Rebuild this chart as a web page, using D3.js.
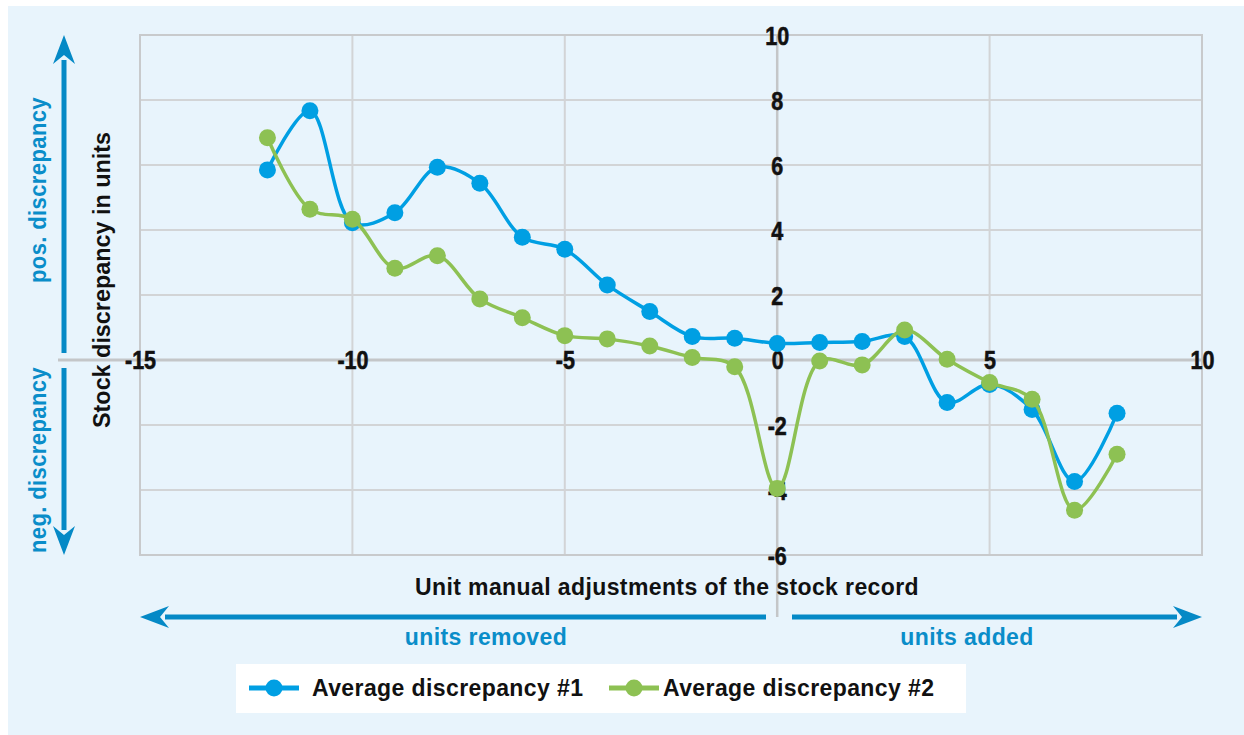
<!DOCTYPE html>
<html>
<head>
<meta charset="utf-8">
<script src="https://cdn.jsdelivr.net/npm/d3@7"></script>
<style>
  body { margin: 0; background: #fff; }
  text { font-family: "Liberation Sans", Arial, sans-serif; font-weight: bold; }
</style>
</head>
<body>
<div id="wrapper"></div>
<script>
// Data
const adjustments = [-12, -11, -10, -9, -8, -7, -6, -5, -4, -3, -2, -1, 0, 1, 2, 3, 4, 5, 6, 7, 8]
const discrepancy1 = [5.85, 7.67, 4.22, 4.53, 5.93, 5.44, 3.78, 3.41, 2.31, 1.49, 0.72, 0.67, 0.51, 0.54, 0.57, 0.72, -1.31, -0.75, -1.52, -3.74, -1.64]
const discrepancy2 = [6.84, 4.64, 4.33, 2.82, 3.21, 1.88, 1.3, 0.75, 0.65, 0.43, 0.08, -0.21, -3.95, -0.03, -0.15, 0.92, 0.02, -0.69, -1.21, -4.62, -2.9]
const seriesNames = ['Average discrepancy #1', 'Average discrepancy #2']
const xTicks = [-15, -10, -5, 0, 5, 10]
const yTicks = [-6, -4, -2, 0, 2, 4, 6, 8, 10]

const colors = ['#009fe3', '#8dc153']
const arrowBlue = '#0589c6'

function drawChart() {
  const dimensions = {
    width: 1244,
    height: 735,
    margin: { top: 35, right: 42, bottom: 180, left: 140 },
  }
  dimensions.boundedWidth = dimensions.width - dimensions.margin.left - dimensions.margin.right
  dimensions.boundedHeight = dimensions.height - dimensions.margin.top - dimensions.margin.bottom

  const svg = d3.select('#wrapper')
    .append('svg')
      .attr('width', dimensions.width)
      .attr('height', dimensions.height)

  // panel background
  svg.append('rect')
    .attr('x', 8).attr('y', 6)
    .attr('width', dimensions.width - 8)
    .attr('height', dimensions.height - 6)
    .attr('fill', '#e8f4fc')

  const xScale = d3.scaleLinear()
    .domain([-15, 10])
    .range([dimensions.margin.left, dimensions.margin.left + dimensions.boundedWidth])
  const yScale = d3.scaleLinear()
    .domain([-6, 10])
    .range([dimensions.margin.top + dimensions.boundedHeight, dimensions.margin.top])

  const x0 = xScale(0), y0 = yScale(0)

  // grid
  svg.append('g').selectAll('line')
    .data(yTicks.filter(d => d !== 0))
    .join('line')
      .attr('x1', xScale(-15)).attr('x2', xScale(10))
      .attr('y1', d => yScale(d)).attr('y2', d => yScale(d))
      .attr('stroke', '#d2d4d6').attr('stroke-width', 2)
  svg.append('g').selectAll('line')
    .data(xTicks.filter(d => d !== 0))
    .join('line')
      .attr('x1', d => xScale(d)).attr('x2', d => xScale(d))
      .attr('y1', yScale(10)).attr('y2', yScale(-6))
      .attr('stroke', '#d2d4d6').attr('stroke-width', 2)
  svg.append('rect')
    .attr('x', xScale(-15)).attr('y', yScale(10))
    .attr('width', xScale(10) - xScale(-15))
    .attr('height', yScale(-6) - yScale(10))
    .attr('fill', 'none')
    .attr('stroke', '#c8cacc').attr('stroke-width', 2)

  // zero axes
  svg.append('line')
    .attr('x1', 58).attr('x2', xScale(10))
    .attr('y1', y0).attr('y2', y0)
    .attr('stroke', '#c4c6c8').attr('stroke-width', 3)
  svg.append('line')
    .attr('x1', x0).attr('x2', x0)
    .attr('y1', yScale(10)).attr('y2', 617)
    .attr('stroke', '#c4c6c8').attr('stroke-width', 2.5)

  // tick labels centred on the zero axes
  const fmt = d => String(d)
  const xAxis = svg.append('g')
    .attr('transform', `translate(0, ${y0})`)
    .call(d3.axisBottom(xScale).tickValues(xTicks).tickFormat(fmt).tickSize(0).tickPadding(0))
  const yAxis = svg.append('g')
    .attr('transform', `translate(${x0}, 0)`)
    .call(d3.axisLeft(yScale).tickValues(yTicks.filter(d => d !== 0)).tickFormat(fmt).tickSize(0).tickPadding(0))
  ;[xAxis, yAxis].forEach(ax => {
    ax.select('.domain').remove()
    ax.selectAll('text')
      .attr('x', 0).attr('y', 0)
      .attr('dy', '0.36em')
      .attr('transform', 'scale(0.86,1)')
      .attr('text-anchor', 'middle')
      .attr('fill', '#111')
      .attr('stroke', '#111').attr('stroke-width', 0.6)
      .style('font-size', '25px')
  })

  // lines
  const lineGen = d3.line()
    .x((d, i) => xScale(adjustments[i]))
    .y(d => yScale(d))
    .curve(d3.curveCatmullRom.alpha(0.5))

  const allSeries = [discrepancy1, discrepancy2]
  allSeries.forEach((values, si) => {
    svg.append('path')
      .attr('d', lineGen(values))
      .attr('fill', 'none')
      .attr('stroke', colors[si])
      .attr('stroke-width', 3.5)
    svg.append('g').selectAll('circle')
      .data(values)
      .join('circle')
        .attr('cx', (d, i) => xScale(adjustments[i]))
        .attr('cy', d => yScale(d))
        .attr('r', 8.5)
        .attr('fill', colors[si])
  })

  // arrows
  const arrow = (x1, y1, x2, y2) => {
    const ang = Math.atan2(y2 - y1, x2 - x1)
    const len = 29, half = 11, notch = 9
    const g = svg.append('g')
    const ex = x2 - Math.cos(ang) * (len - 4), ey = y2 - Math.sin(ang) * (len - 4)
    g.append('line')
      .attr('x1', x1).attr('y1', y1).attr('x2', ex).attr('y2', ey)
      .attr('stroke', arrowBlue).attr('stroke-width', 5)
    const pt = (a, b) => [x2 + Math.cos(ang) * a - Math.sin(ang) * b, y2 + Math.sin(ang) * a + Math.cos(ang) * b]
    g.append('path')
      .attr('d', 'M' + [pt(0, 0), pt(-len, -half), pt(-len + notch, 0), pt(-len, half)].join('L') + 'Z')
      .attr('fill', arrowBlue)
  }
  arrow(64, 353, 64, yScale(10))
  arrow(64, 368, 64, yScale(-6))
  arrow(766, 617, xScale(-15), 617)
  arrow(792, 617, xScale(10), 617)

  // labels
  const blueLabel = (txt, x, y, rot, len) => {
    const t = svg.append('text')
      .attr('transform', `translate(${x},${y}) rotate(${rot})`)
      .attr('text-anchor', 'middle').attr('dy', '0.35em')
      .attr('fill', '#0a8dc9').style('font-size', '23px')
      .style('letter-spacing', '0.4px')
      .text(txt)
    if (len) t.attr('textLength', len).attr('lengthAdjust', 'spacingAndGlyphs')
  }
  blueLabel('pos. discrepancy', 38, 190, -90, 186)
  blueLabel('neg. discrepancy', 38, 460, -90, 186)
  blueLabel('units removed', 486, 637, 0)
  blueLabel('units added', 967, 637, 0)

  svg.append('text')
    .attr('transform', 'translate(102,280) rotate(-90)')
    .attr('text-anchor', 'middle').attr('dy', '0.35em')
    .attr('fill', '#111').style('font-size', '23px')
    .attr('textLength', 296).attr('lengthAdjust', 'spacingAndGlyphs')
    .text('Stock discrepancy in units')
  svg.append('text')
    .attr('x', 667).attr('y', 587)
    .attr('text-anchor', 'middle').attr('dy', '0.35em')
    .attr('fill', '#111').style('font-size', '23px')
    .style('letter-spacing', '0.4px')
    .text('Unit manual adjustments of the stock record')

  // legend
  svg.append('rect')
    .attr('x', 236).attr('y', 664)
    .attr('width', 730).attr('height', 49)
    .attr('fill', '#fff')
  const legendX = [249, 609]
  const legendTextX = [312, 663]
  seriesNames.forEach((name, i) => {
    const lg = svg.append('g').attr('transform', `translate(0, 688)`)
    lg.append('line').attr('x1', legendX[i]).attr('x2', legendX[i] + 50)
      .attr('stroke', colors[i]).attr('stroke-width', 5)
    lg.append('circle').attr('cx', legendX[i] + 25).attr('r', 8.5).attr('fill', colors[i])
    lg.append('text').attr('x', legendTextX[i]).attr('dy', '0.35em')
      .attr('fill', '#111').style('font-size', '23px')
      .style('letter-spacing', '0.4px')
      .text(name)
  })
}
drawChart()
</script>
</body>
</html>
